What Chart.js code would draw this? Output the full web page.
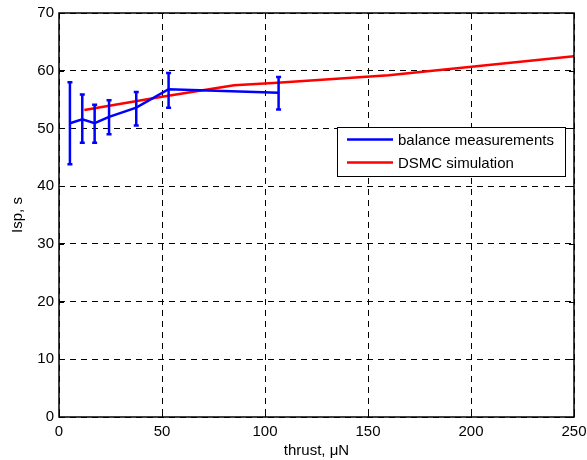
<!DOCTYPE html>
<html>
<head>
<meta charset="utf-8">
<script src="https://cdn.jsdelivr.net/npm/chart.js@4/dist/chart.umd.min.js"></script>
<style>
  body { margin: 0; background: #fff; }
  canvas { display: block; }
</style>
</head>
<body>
<canvas id="ispChart" width="587" height="460"></canvas>
<script>
// balance measurements (thrust in uN, Isp in s, error bar limits)
const balanceThrust = [5.3, 11.3, 17.3, 24.3, 37.5, 53.2, 106.6];
const balanceIsp = [50.9, 51.6, 50.9, 52.0, 53.6, 56.8, 56.2];
const balanceHigh = [58.0, 55.9, 54.1, 54.9, 56.3, 59.6, 58.9];
const balanceLow = [43.8, 47.5, 47.5, 49.0, 50.5, 53.6, 53.3];

// DSMC simulation
const dsmcThrust = [12.3, 50, 85, 106, 160, 250];
const dsmcIsp = [53.2, 55.5, 57.5, 57.9, 59.2, 62.5];

const xTicks = [0, 50, 100, 150, 200, 250];
const yTicks = [0, 10, 20, 30, 40, 50, 60, 70];

const font = "'Liberation Sans', Arial, sans-serif";

function toPoints(xs, ys) {
    return xs.map((x, i) => ({ x: x, y: ys[i] }));
}

// error bars for the balance data
const errorBars = {
    id: "errorBars",
    afterDatasetsDraw(chart) {
        const ctx = chart.ctx;
        const xs = chart.scales.x;
        const ys = chart.scales.y;
        ctx.save();
        ctx.strokeStyle = "#0000ff";
        ctx.lineWidth = 2.5;
        for (let i = 0; i < balanceThrust.length; i++) {
            const px = xs.getPixelForValue(balanceThrust[i]);
            const top = ys.getPixelForValue(balanceHigh[i]);
            const bot = ys.getPixelForValue(balanceLow[i]);
            ctx.beginPath();
            ctx.moveTo(px, top);
            ctx.lineTo(px, bot);
            ctx.moveTo(px - 2.5, top);
            ctx.lineTo(px + 2.5, top);
            ctx.moveTo(px - 2.5, bot);
            ctx.lineTo(px + 2.5, bot);
            ctx.stroke();
        }
        ctx.restore();
    }
};

// box around the axes with small inward ticks, then the legend
const boxAndLegend = {
    id: "boxAndLegend",
    afterDraw(chart) {
        const ctx = chart.ctx;
        const a = chart.chartArea;
        const xs = chart.scales.x;
        const ys = chart.scales.y;
        ctx.save();
        ctx.strokeStyle = "#000";
        ctx.lineWidth = 1;
        ctx.beginPath();
        xTicks.forEach(v => {
            const px = Math.round(xs.getPixelForValue(v)) + 0.5;
            ctx.moveTo(px, a.bottom); ctx.lineTo(px, a.bottom - 5);
            ctx.moveTo(px, a.top); ctx.lineTo(px, a.top + 5);
        });
        yTicks.forEach(v => {
            const py = Math.round(ys.getPixelForValue(v)) + 0.5;
            ctx.moveTo(a.left, py); ctx.lineTo(a.left + 5, py);
            ctx.moveTo(a.right, py); ctx.lineTo(a.right - 5, py);
        });
        ctx.stroke();
        ctx.lineWidth = 1.5;
        ctx.strokeRect(a.left, a.top, a.right - a.left, a.bottom - a.top);

        // legend
        const lx = 337, ly = 127, lw = 228, lh = 49;
        ctx.fillStyle = "#fff";
        ctx.fillRect(lx, ly, lw, lh);
        ctx.lineWidth = 1;
        ctx.strokeRect(lx + 0.5, ly + 0.5, lw, lh);
        ctx.font = "15px " + font;
        ctx.textBaseline = "middle";
        chart.data.datasets.forEach((ds, i) => {
            const y = ly + 12.5 + i * 23;
            ctx.strokeStyle = ds.borderColor;
            ctx.lineWidth = 2.5;
            ctx.beginPath();
            ctx.moveTo(lx + 10, y);
            ctx.lineTo(lx + 56, y);
            ctx.stroke();
            ctx.fillStyle = "#000";
            ctx.fillText(ds.label, lx + 61, y + 1);
        });
        ctx.restore();
    }
};

const ctx = document.getElementById("ispChart");

new Chart(ctx, {
    type: "scatter",
    data: {
        datasets: [
            {
                label: "balance measurements",
                data: toPoints(balanceThrust, balanceIsp),
                showLine: true,
                borderColor: "#0000ff",
                backgroundColor: "#0000ff",
                borderWidth: 2.5,
                pointRadius: 0,
                tension: 0
            },
            {
                label: "DSMC simulation",
                data: toPoints(dsmcThrust, dsmcIsp),
                showLine: true,
                borderColor: "#ff0000",
                backgroundColor: "#ff0000",
                borderWidth: 2.5,
                pointRadius: 0,
                tension: 0
            }
        ]
    },
    options: {
        responsive: false,
        animation: false,
        events: [],
        layout: {
            padding: { top: 13, right: 13, left: 0, bottom: 0 }
        },
        plugins: {
            legend: { display: false },
            tooltip: { enabled: false }
        },
        scales: {
            x: {
                type: "linear",
                min: 0,
                max: 250,
                afterBuildTicks(scale) {
                    scale.ticks = xTicks.map(v => ({ value: v }));
                },
                afterFit(scale) {
                    scale.height = 43;
                    scale.paddingLeft = 0;
                    scale.paddingRight = 0;
                },
                ticks: {
                    color: "#000",
                    padding: 6,
                    maxRotation: 0,
                    font: { family: font, size: 15 }
                },
                grid: {
                    color: "#000",
                    lineWidth: 1,
                    drawTicks: false
                },
                border: { display: false, dash: [6, 5] },
                title: {
                    display: true,
                    text: "thrust, μN",
                    color: "#000",
                    padding: { top: 0, bottom: 0 },
                    font: { family: font, size: 15 }
                }
            },
            y: {
                type: "linear",
                min: 0,
                max: 70,
                afterBuildTicks(scale) {
                    scale.ticks = yTicks.map(v => ({ value: v }));
                },
                afterFit(scale) {
                    scale.width = 59;
                    scale.paddingTop = 0;
                    scale.paddingBottom = 0;
                },
                ticks: {
                    color: "#000",
                    padding: 5,
                    font: { family: font, size: 15 }
                },
                grid: {
                    color: "#000",
                    lineWidth: 1,
                    drawTicks: false
                },
                border: { display: false, dash: [6, 5] },
                title: {
                    display: true,
                    text: "Isp, s",
                    color: "#000",
                    padding: { top: 9, bottom: 0 },
                    font: { family: font, size: 15 }
                }
            }
        }
    },
    plugins: [errorBars, boxAndLegend]
});
</script>
</body>
</html>
